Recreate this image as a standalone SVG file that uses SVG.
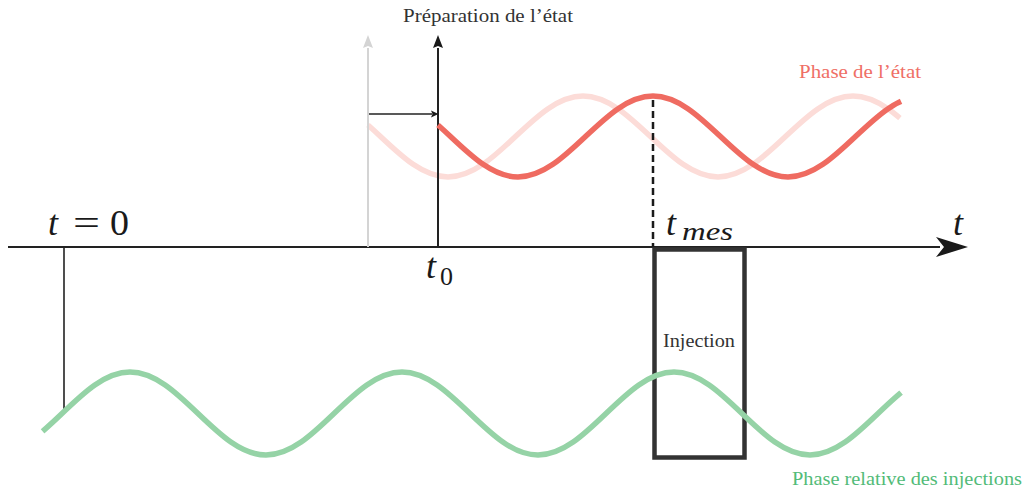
<svg xmlns="http://www.w3.org/2000/svg" width="1026" height="496" viewBox="0 0 1026 496">
<style>
.lbl{font-family:"Liberation Serif","DejaVu Serif",serif;font-size:18px;fill:#333}
.math{font-family:"Liberation Serif","DejaVu Serif",serif;font-size:36px;fill:#1a1a1a}
.it{font-style:italic}
.wave{fill:none;stroke-width:5.5}
.ln{stroke:#222;fill:none}
</style>
<defs>
<clipPath id="cPink"><polygon points="359,134.9 377,114.9 377,60 910,60 910,105.9 890,129.9 890,200 359,200"/></clipPath>
<clipPath id="cRed"><polygon points="429,135 447,115 447,60 895.4,89.3 906.6,113.3 906.6,200 429,200"/></clipPath>
<clipPath id="cGreen"><polygon points="32.3,340 891,340 891,380.5 911,404.5 911,480 53.1,480 53.1,443.4 32.3,419.4"/></clipPath>
</defs>
<rect width="1026" height="496" fill="#fff"/>

<g id="waves-state">
<path class="wave" clip-path="url(#cPink)" stroke="#fcdcd8" d="M313,96 C362.06,96 398.94,177 448,177 C497.06,177 533.94,96 583,96 C632.06,96 668.94,177 718,177 C767.06,177 803.94,96 853,96 C902.06,96 938.94,177 988,177"/>
</g>

<g id="connectors">
<line class="ln" x1="8" y1="247" x2="940" y2="247" stroke-width="2"/>
<path d="M968,247 L936,237 L944,247 L936,257 Z" fill="#1a1a1a"/>
<line x1="368" y1="247" x2="368" y2="48" stroke="#d4d4d4" stroke-width="2"/>
<path d="M368,35 L373,48 L368,46 L363,48 Z" fill="#d4d4d4"/>
<line class="ln" x1="438" y1="247" x2="438" y2="48" stroke-width="2"/>
<path d="M438,35 L443,48 L438,46 L433,48 Z" fill="#1a1a1a"/>
<line class="ln" x1="369" y1="114" x2="432" y2="114" stroke-width="1.6"/>
<path d="M438.5,114 L431,110.5 L432.5,114 L431,117.5 Z" fill="#1a1a1a"/>
<line class="ln" x1="64" y1="247" x2="64" y2="411" stroke-width="1.6"/>
<line x1="653" y1="100" x2="653" y2="247" stroke="#1a1a1a" stroke-width="2.5" stroke-dasharray="7,4"/>
</g>

<g id="phase-etat">
<path class="wave" clip-path="url(#cRed)" stroke="#ef6b61" d="M383,96 C432.06,96 468.94,177 518,177 C567.06,177 603.94,96 653,96 C702.06,96 738.94,177 788,177 C837.06,177 873.94,96 923,96"/>
<text class="lbl" x="799" y="78" textLength="122" lengthAdjust="spacingAndGlyphs" style="fill:#ef6f66">Phase de l’état</text>
</g>

<g id="preparation">
<text class="lbl" x="403" y="21.5" textLength="170" lengthAdjust="spacingAndGlyphs">Préparation de l’état</text>
</g>

<g id="injection">
<rect x="654.5" y="249.5" width="90" height="208" fill="none" stroke="#333" stroke-width="4.5"/>
<text class="lbl" x="663" y="346.5" textLength="72" lengthAdjust="spacingAndGlyphs">Injection</text>
</g>

<g id="phase-injections">
<path class="wave" clip-path="url(#cGreen)" stroke="#95d3a6" d="M-6,455 C43.42,455 80.58,372 130,372 C179.42,372 216.58,455 266,455 C315.42,455 352.58,372 402,372 C451.42,372 488.58,455 538,455 C587.42,455 624.58,372 674,372 C723.42,372 760.58,455 810,455 C859.42,455 896.58,372 946,372"/>
<text class="lbl" x="792" y="485" textLength="230" lengthAdjust="spacingAndGlyphs" style="fill:#52bb78">Phase relative des injections</text>
</g>

<g id="labels-time">
<text class="math it" x="48" y="235">t</text>
<text class="math" x="73" y="235" textLength="27" lengthAdjust="spacingAndGlyphs">=</text>
<text class="math" x="110" y="235" textLength="19" lengthAdjust="spacingAndGlyphs">0</text>
<text class="math it" x="426" y="278">t</text>
<text class="math" x="440" y="285" style="font-size:25px" textLength="13" lengthAdjust="spacingAndGlyphs">0</text>
<text class="math it" x="666" y="235">t</text>
<text class="math it" x="682" y="240" style="font-size:25px" textLength="51" lengthAdjust="spacingAndGlyphs">mes</text>
<text class="math it" x="953" y="235">t</text>
</g>
</svg>
